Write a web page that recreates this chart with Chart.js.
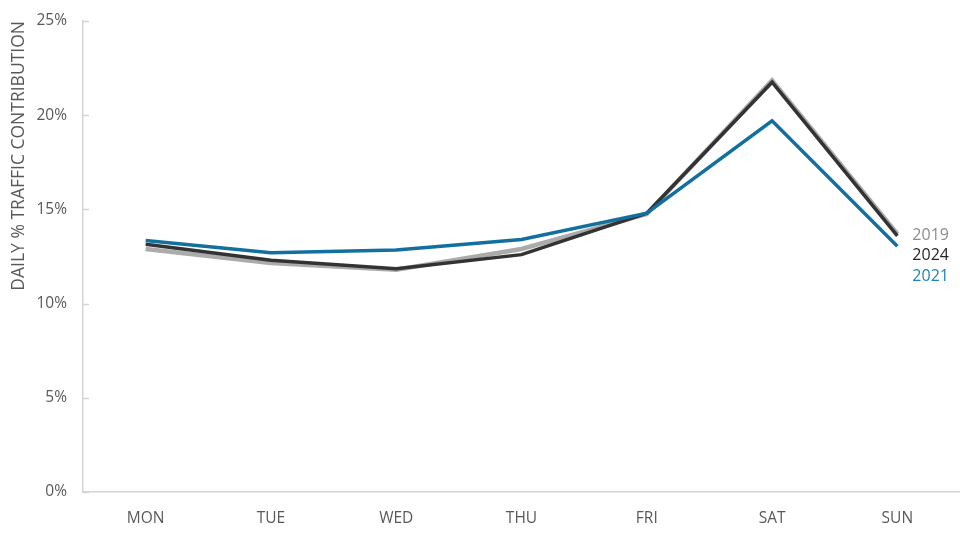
<!DOCTYPE html>
<html>
<head>
<meta charset="utf-8">
<script src="https://cdn.jsdelivr.net/npm/chart.js@4.4.1/dist/chart.umd.min.js"></script>
<style>
  html, body { margin: 0; padding: 0; background: #fff; }
  #wrap { width: 960px; height: 540px; }
</style>
</head>
<body>
<div id="wrap"><canvas id="trafego" width="960" height="540"></canvas></div>
<script>
// dados
const dias = ['MON', 'TUE', 'WED', 'THU', 'FRI', 'SAT', 'SUN'];
const serie2019 = [12.9, 12.15, 11.8, 12.9, 14.75, 21.85, 13.7];
const serie2024 = [13.15, 12.3, 11.85, 12.6, 14.8, 21.75, 13.6];
const serie2021 = [13.35, 12.7, 12.85, 13.4, 14.8, 19.7, 13.05];
const ticksY = [0, 5, 10, 15, 20, 25];

const corTexto = '#595959';
const corEixo = '#d4d4d4';
const fonte = '"Open Sans", "Noto Sans", sans-serif';

// marquinhas do eixo Y para dentro + rótulos no fim das linhas
const extras = {
  id: 'extras',
  afterDraw(chart) {
    const ctx = chart.ctx;
    const y = chart.scales.y;
    const area = chart.chartArea;
    ctx.save();
    ctx.strokeStyle = corEixo;
    ctx.lineWidth = 1.5;
    ticksY.forEach(v => {
      const py = Math.round(y.getPixelForValue(v)) + 0.5;
      ctx.beginPath();
      ctx.moveTo(area.left, py);
      ctx.lineTo(area.left + 6, py);
      ctx.stroke();
    });

    // legenda empilhada ao lado do último ponto
    const meta = chart.getDatasetMeta(0);
    const ultimo = meta.data[meta.data.length - 1];
    const x0 = ultimo.x + 15;
    const y0 = ultimo.y + 1.5;
    ctx.font = '16px ' + fonte;
    ctx.textBaseline = 'middle';
    ctx.textAlign = 'left';
    const rotulos = [
      { t: '2019', c: '#8c8c8c' },
      { t: '2024', c: '#262626' },
      { t: '2021', c: '#1f80c0' }
    ];
    rotulos.forEach((r, i) => {
      ctx.fillStyle = r.c;
      ctx.fillText(r.t, x0, y0 + i * 20.5);
    });
    ctx.restore();
  }
};

new Chart(document.getElementById('trafego'), {
  type: 'line',
  data: {
    labels: dias,
    datasets: [
      { label: '2019', data: serie2019, borderColor: '#ababab', borderWidth: 4.5, order: 2 },
      { label: '2024', data: serie2024, borderColor: '#333333', borderWidth: 3.5, order: 1 },
      { label: '2021', data: serie2021, borderColor: '#12709e', borderWidth: 3.5, order: 0 }
    ]
  },
  options: {
    responsive: false,
    animation: false,
    devicePixelRatio: 1,
    elements: {
      line: { tension: 0, fill: false, borderJoinStyle: 'miter', borderCapStyle: 'butt' },
      point: { radius: 0, hoverRadius: 0 }
    },
    layout: { padding: { top: 21, right: 0, bottom: 0, left: 0 } },
    plugins: {
      legend: { display: false },
      tooltip: { enabled: false }
    },
    scales: {
      x: {
        offset: true,
        grid: { display: false, drawTicks: false },
        border: { color: corEixo, width: 1.5 },
        ticks: { color: corTexto, font: { family: fonte, size: 15.5 }, padding: 17 },
        afterFit: s => { s.height = 48; s.paddingLeft = 0; s.paddingRight = 0; }
      },
      y: {
        min: 0,
        max: 25,
        afterBuildTicks: s => { s.ticks = ticksY.map(v => ({ value: v })); },
        grid: { display: false, drawTicks: false },
        border: { color: corEixo, width: 1.5 },
        ticks: {
          color: corTexto,
          font: { family: fonte, size: 15.5 },
          padding: 16,
          callback: v => v + '%'
        },
        title: {
          display: true,
          text: 'DAILY % TRAFFIC CONTRIBUTION',
          align: 'end',
          color: corTexto,
          font: { family: fonte, size: 17.5 },
          padding: { top: 9, bottom: 0 }
        },
        afterFit: s => { s.width = 83; s.paddingTop = 0; s.paddingBottom = 0; }
      }
    }
  },
  plugins: [extras]
});
</script>
</body>
</html>
